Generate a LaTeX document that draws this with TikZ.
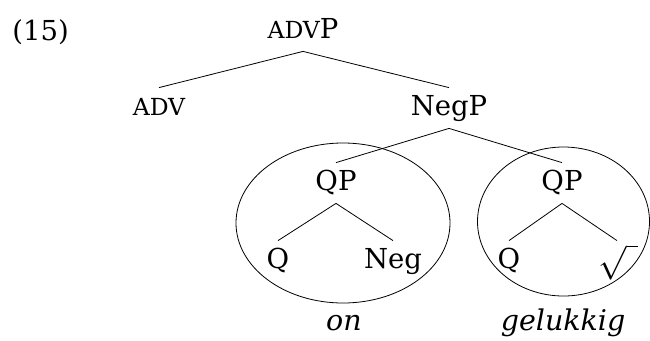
\RequirePackage{fix-cm}
\documentclass[tikz,border=0pt]{standalone}
\usepackage{fontspec}
\setmainfont{DejaVu Serif}
\newcommand{\fsc}[1]{{\fontsize{23.5}{28}\selectfont #1}}
\begin{document}
\begin{tikzpicture}[x=1pt,y=-1pt,line width=0.8pt,
  lab/.style={anchor=base, inner xsep=0pt, inner ysep=2pt, font=\fontsize{27.5}{33}\selectfont, text height=25pt, text depth=11pt},
  itl/.style={anchor=base, inner sep=0pt, font=\fontsize{28.5}{34}\selectfont\itshape},
  num/.style={anchor=base west, inner sep=0pt, font=\fontsize{27.5}{33}\selectfont}]
\useasboundingbox (0,0) rectangle (650,340);
\node[num] (ex) at (12,40) {(15)};
\node[lab] (advp) at (303,38) {\fsc{ADV}P};
\node[lab] (adv) at (159,115) {\fsc{ADV}};
\node[lab] (negp) at (449,115) {NegP};
\node[lab] (qp1) at (336,190) {QP};
\node[lab] (q1) at (278,268) {Q};
\node[lab] (neg) at (393,268) {Neg};
\node[lab] (qp2) at (562,190) {QP};
\node[lab] (q2) at (509,268) {Q};
\node[lab] (root) at (617,268) {\makebox[0pt]{\hspace{3pt}\raisebox{-7pt}{\fontsize{34}{40}\selectfont$\sqrt{\phantom{i}}$}}};
\node[itl] (on) at (344,330) {on};
\node[itl] (gel) at (563,330) {gelukkig};
\draw (advp.south) -- (adv.north);
\draw (advp.south) -- (negp.north);
\draw (negp.south) -- (qp1.north);
\draw (negp.south) -- (qp2.north);
\draw (qp1.south) -- (q1.north);
\draw (qp1.south) -- (neg.north);
\draw (qp2.south) -- (q2.north);
\draw (qp2.south) -- (root.north);
\draw (343,223) ellipse [x radius=107pt, y radius=80pt];
\draw (563.5,221.5) ellipse [x radius=86pt, y radius=74.5pt];
\end{tikzpicture}
\end{document}
